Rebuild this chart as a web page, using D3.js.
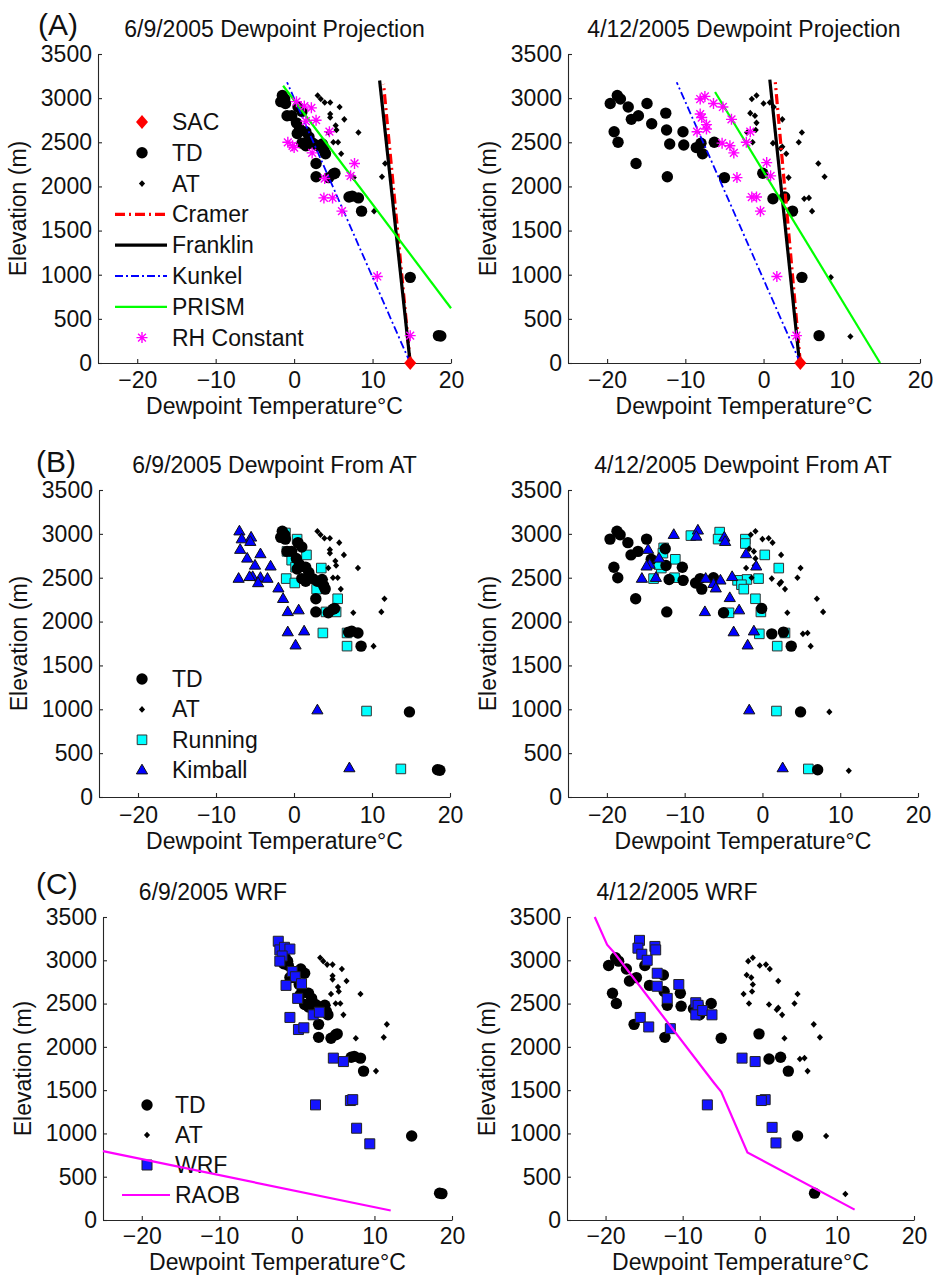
<!DOCTYPE html>
<html>
<head>
<meta charset="utf-8">
<script src="https://cdn.jsdelivr.net/npm/d3@7"></script>
<style>
  body { margin: 0; background: #fff; }
  svg text { font-family: "Liberation Sans", Arial, sans-serif; fill: #111; }
</style>
</head>
<body>
<svg id="fig" width="933" height="1279"></svg>
<script>
// ---- axis ticks ----
const xDomain = [-25, 20];
const yDomain = [0, 3500];
const xTicks = [-20, -10, 0, 10, 20];
const yTicks = [0, 500, 1000, 1500, 2000, 2500, 3000, 3500];

// ---- 6/9/2005 observations: [dewpoint °C, elevation m] ----
const td0609 = [[-1.5,3030],[-1.7,2960],[-1.2,2990],[-1.1,2940],[-0.9,2800],[0.5,2900],[1.0,2850],[-0.3,2800],
  [0.3,2720],[0.7,2650],[0.4,2600],[1.5,2620],[1.9,2560],[1.0,2490],[1.5,2460],[2.4,2490],[3.0,2460],[3.6,2480],
  [3.8,2410],[4.0,2370],[2.8,2260],[2.8,2110],[4.4,2100],[5.0,2140],[5.2,2150],[7.0,1880],[7.4,1890],[8.2,1870],
  [8.6,1720],[14.8,970],[18.4,310],[18.7,305]];
const at0609 = [[3.0,3030],[3.4,2990],[3.9,2950],[4.6,2950],[5.8,2900],[4.6,2820],[4.6,2780],[6.4,2760],[5.3,2690],
  [5.4,2640],[4.4,2610],[8.2,2610],[5.0,2500],[5.6,2500],[4.0,2480],[6.0,2370],[11.6,2260],[11.2,2110],[7.6,2100],[10.2,1720]];
const rh0609 = [[0.3,2960],[1.3,2910],[2.2,2890],[1.5,2740],[2.8,2750],[4.5,2620],[-0.8,2500],[-0.2,2460],[0.0,2440],
  [2.3,2380],[7.7,2260],[7.2,2120],[3.9,2090],[3.8,1870],[4.9,1870],[6.1,1720],[10.6,980],[14.8,310]];
const sac0609 = [[14.8, 0]];
const cramer0609 = [[14.8,0],[11.4,3160]];
const franklin0609 = [[14.8,0],[10.9,3200]];
const kunkel0609 = [[14.8,0],[-0.9,3180]];
const prism0609 = [[20,620],[-1.4,3140]];
const running0609 = [[-1.1,3010],[0.4,2940],[-0.9,2800],[1.6,2760],[-0.3,2700],[0.2,2620],[3.5,2610],[-1.0,2490],
  [0.1,2440],[2.9,2370],[5.6,2260],[5.4,2110],[4.1,2110],[3.7,1870],[6.8,1870],[6.8,1720],[9.3,980],[13.7,320]];
const kimball0609 = [[-7.0,3030],[-6.7,2940],[-5.5,2960],[-5.6,2910],[-6.9,2820],[-6.0,2720],[-4.3,2770],[-5.0,2640],
  [-3.0,2630],[-5.3,2510],[-4.3,2500],[-7.1,2490],[-5.7,2510],[-4.6,2440],[-3.4,2490],[-2.0,2380],[-1.4,2260],
  [-0.8,2110],[0.6,2130],[-0.8,1880],[1.3,1890],[0.2,1730],[3.0,990],[7.1,330]];
const wrf0609 = [[-2.4,3220],[-2.2,3120],[-1.6,3150],[-0.9,3130],[-1.9,3050],[-2.2,2990],[-0.6,2870],[-0.2,2810],
  [0.6,2730],[-1.4,2710],[0.1,2560],[-0.9,2340],[0.2,2200],[0.9,2220],[2.1,2370],[2.9,2400],[4.7,1870],[6.0,1830],
  [6.9,1380],[7.2,1390],[2.4,1330],[7.7,1060],[9.4,880]];
const raob0609 = [[12.1,110],[-25,795]];

// ---- 4/12/2005 observations ----
const td0412 = [[-19.6,2940],[-18.7,3030],[-18.3,2990],[-17.3,2900],[-16.9,2760],[-16.0,2800],[-14.9,2940],[-14.3,2710],
  [-12.5,2830],[-12.4,2640],[-10.3,2620],[-19.1,2620],[-18.6,2500],[-12.0,2480],[-10.2,2470],[-8.6,2440],[-8.0,2490],
  [-7.8,2370],[-6.3,2500],[-16.3,2260],[-12.3,2110],[-5.0,2100],[-0.1,2150],[1.2,1860],[2.7,1880],[3.7,1720],
  [4.9,970],[7.1,310]];
const at0412 = [[-1.5,2990],[-0.9,3030],[0.0,2940],[0.8,2950],[1.3,2900],[-1.7,2830],[-1.1,2800],[-0.9,2720],[-1.0,2640],
  [-2.1,2610],[2.4,2760],[4.9,2610],[-1.4,2500],[1.2,2490],[4.5,2500],[2.4,2450],[2.2,2430],[2.9,2370],[7.0,2260],
  [7.8,2110],[3.2,2100],[5.2,1860],[5.8,1870],[6.2,1720],[8.6,970],[11.1,300]];
const rh0412 = [[-8.1,2990],[-7.5,3020],[-6.4,2940],[-5.2,2900],[-8.1,2820],[-7.9,2780],[-7.3,2700],[-8.5,2620],
  [-7.3,2650],[-4.1,2760],[-1.7,2620],[-2.2,2500],[-5.3,2490],[-4.3,2460],[-3.8,2380],[0.4,2270],[0.9,2120],
  [-3.4,2100],[-1.5,1880],[-0.9,1880],[-0.4,1720],[1.7,980],[4.2,310]];
const sac0412 = [[4.7, 0]];
const cramer0412 = [[4.7,0],[1.5,3180]];
const franklin0412 = [[4.6,0],[0.8,3210]];
const kunkel0412 = [[4.7,0],[-11.1,3180]];
const prism0412 = [[14.9,0],[-6.2,3070]];
const running0412 = [[-9.2,2980],[-5.5,3020],[-5.7,2940],[-2.2,2940],[-2.2,2890],[0.3,2760],[2.1,2610],[-0.5,2490],
  [-2.0,2480],[-3.2,2470],[-2.7,2420],[-2.4,2370],[-0.9,2260],[-0.2,2110],[-0.4,1860],[2.9,1870],[1.9,1720],
  [1.8,980],[5.9,320],[-11.2,2710],[-12.7,2840],[-12.8,2780],[-13.0,2610],[-13.3,2650],[-14.0,2490],[-11.3,2500],[-4.3,2100]];
const kimball0412 = [[-11.4,2990],[-8.3,3040],[-8.5,2970],[-4.9,2960],[-4.8,2910],[-14.7,2820],[-14.5,2650],[-14.9,2630],
  [-13.3,2720],[-15.5,2490],[-13.7,2500],[-2.1,2770],[-0.8,2630],[-3.9,2510],[-5.4,2470],[-6.3,2430],[-6.0,2380],
  [-7.3,2490],[-4.2,2270],[-3.0,2130],[-7.4,2110],[-3.7,1880],[-1.1,1890],[-1.9,1730],[-1.7,990],[2.6,330]];
const wrf0412 = [[-15.6,3230],[-15.8,3140],[-15.3,3070],[-14.6,3000],[-13.6,3160],[-13.5,3120],[-13.3,2850],[-13.3,2700],
  [-10.5,2720],[-12.0,2560],[-15.5,2340],[-14.4,2230],[-11.6,2210],[-8.3,2510],[-8.0,2480],[-8.3,2370],[-7.4,2420],
  [-6.2,2370],[-2.3,1870],[-0.6,1830],[0.7,1390],[0.2,1380],[-6.8,1330],[1.6,1070],[2.1,890]];
const raob0412 = [[-21.4,3500],[-19.8,3180],[-18.9,3090],[-5.9,1580],[-5.0,1480],[-1.6,780],[12.3,120]];

// ---- drawing helpers ----
const svg = d3.select("#fig");
const FONT = 23;

const markerPath = {
  td:  () => d3.symbol(d3.symbolCircle, Math.PI * 5.7 * 5.7)(),
  at:  () => "M0,-3.3L3.1,0L0,3.3L-3.1,0Z",
  sac: () => "M0,-7L6,0L0,7L-6,0Z",
  rh:  () => "M-5.5,0H5.5M0,-5.5V5.5M-3.9,-3.9L3.9,3.9M-3.9,3.9L3.9,-3.9",
  run: () => "M-4.8,-4.8H4.8V4.8H-4.8Z",
  kim: () => "M0,-6L5.6,3.7L-5.6,3.7Z",
  wrf: () => "M-5,-5H5V5H-5Z"
};
const markerStyle = {
  td:  {fill: "#000", stroke: "none"},
  at:  {fill: "#000", stroke: "none"},
  sac: {fill: "#ff0000", stroke: "none"},
  rh:  {fill: "none", stroke: "#ff00ff", sw: 1.4},
  run: {fill: "#00ffff", stroke: "#333", sw: 1},
  kim: {fill: "#0000ff", stroke: "#111", sw: 1},
  wrf: {fill: "#1414ff", stroke: "#222", sw: 1}
};
const lineStyle = {
  cramer:   {stroke: "#ff0000", sw: 3.2, dash: "10,4,2,4"},
  franklin: {stroke: "#000000", sw: 3.2, dash: null},
  kunkel:   {stroke: "#0000ff", sw: 1.8, dash: "8,3,2,3"},
  prism:    {stroke: "#00ff00", sw: 2.2, dash: null},
  raob:     {stroke: "#ff00ff", sw: 2.2, dash: null}
};

function styleMarker(sel, type) {
  const s = markerStyle[type];
  sel.attr("d", markerPath[type]())
     .attr("fill", s.fill)
     .attr("stroke", s.stroke)
     .attr("stroke-width", s.sw || 0);
}
function styleLine(sel, type) {
  const s = lineStyle[type];
  sel.attr("fill", "none").attr("stroke", s.stroke).attr("stroke-width", s.sw);
  if (s.dash) sel.attr("stroke-dasharray", s.dash);
}

function makePanel(box, title, titleX, tickGap, labelGap) {
  const x = d3.scaleLinear().domain(xDomain).range([box.x0, box.x1]);
  const y = d3.scaleLinear().domain(yDomain).range([box.y1, box.y0]);
  const g = svg.append("g");

  const xa = g.append("g").attr("transform", `translate(0,${box.y1})`)
    .call(d3.axisBottom(x).tickValues(xTicks).tickFormat(d3.format("d"))
      .tickSizeInner(-4).tickSizeOuter(0).tickPadding(tickGap - 16));
  const ya = g.append("g").attr("transform", `translate(${box.x0},0)`)
    .call(d3.axisLeft(y).tickValues(yTicks).tickFormat(d3.format("d"))
      .tickSizeInner(-4).tickSizeOuter(0).tickPadding(6));
  [xa, ya].forEach(a => {
    a.attr("font-size", FONT).attr("font-family", null);
    a.selectAll("path, line").attr("stroke", "#262626").attr("stroke-width", 1.1);
    a.selectAll("text").attr("fill", "#111");
  });

  g.append("text").attr("x", titleX != null ? titleX : (box.x0 + box.x1) / 2)
    .attr("y", box.y0 - 17).attr("text-anchor", "middle").attr("font-size", FONT).text(title);
  g.append("text").attr("x", (box.x0 + box.x1) / 2).attr("y", box.y1 + labelGap)
    .attr("text-anchor", "middle").attr("font-size", FONT).text("Dewpoint Temperature°C");
  g.append("text").attr("transform", `translate(${box.x0 - 72},${(box.y0 + box.y1) / 2}) rotate(-90)`)
    .attr("text-anchor", "middle").attr("font-size", FONT).text("Elevation (m)");

  const layer = g.append("g");
  return {
    x, y, g: layer,
    points(data, type) {
      layer.append("g").selectAll("path").data(data).join("path")
        .attr("transform", d => `translate(${x(d[0])},${y(d[1])})`)
        .call(styleMarker, type);
    },
    line(data, type) {
      layer.append("path").datum(data)
        .attr("d", d3.line().x(d => x(d[0])).y(d => y(d[1])))
        .call(styleLine, type);
    }
  };
}

function legend(g, items, mx, tx, y0, step, lineX0, lineX1) {
  items.forEach((it, i) => {
    const cy = y0 + i * step;
    if (it.kind === "marker") {
      g.append("path").attr("transform", `translate(${mx},${cy})`).call(styleMarker, it.type);
    } else {
      g.append("path").attr("d", `M${lineX0},${cy}H${lineX1}`).call(styleLine, it.type);
    }
    g.append("text").attr("x", tx).attr("y", cy + 8).attr("font-size", FONT).text(it.label);
  });
}

function panelLabel(text, x, y) {
  svg.append("text").attr("x", x).attr("y", y)
    .attr("font-family", "'Open Sans', Lato, sans-serif").attr("font-size", 30).attr("fill", "#111").text(text);
}

// ---- row A: dewpoint projection ----
const boxAL = {x0: 98, x1: 451, y0: 54, y1: 363};
const boxAR = {x0: 568, x1: 920, y0: 54, y1: 363};
[[boxAL, "6/9/2005 Dewpoint Projection", td0609, at0609, rh0609, sac0609, cramer0609, franklin0609, kunkel0609, prism0609],
 [boxAR, "4/12/2005 Dewpoint Projection", td0412, at0412, rh0412, sac0412, cramer0412, franklin0412, kunkel0412, prism0412]]
.forEach(([box, title, td, at, rh, sac, cr, fr, ku, pr], i) => {
  const p = makePanel(box, title, null, 25, 51);
  p.points(td, "td");
  p.points(at, "at");
  p.line(cr, "cramer");
  p.line(fr, "franklin");
  p.line(ku, "kunkel");
  p.line(pr, "prism");
  p.points(rh, "rh");
  p.points(sac, "sac");
  if (i === 0) {
    legend(p.g, [
      {kind: "marker", type: "sac", label: "SAC"},
      {kind: "marker", type: "td", label: "TD"},
      {kind: "marker", type: "at", label: "AT"},
      {kind: "line", type: "cramer", label: "Cramer"},
      {kind: "line", type: "franklin", label: "Franklin"},
      {kind: "line", type: "kunkel", label: "Kunkel"},
      {kind: "line", type: "prism", label: "PRISM"},
      {kind: "marker", type: "rh", label: "RH Constant"}
    ], 142, 172, 122, 30.8, 115, 167);
  }
});

// ---- row B: dewpoint derived from air temperature ----
const boxBL = {x0: 99, x1: 450, y0: 490, y1: 797};
const boxBR = {x0: 568, x1: 918, y0: 490, y1: 797};
[[boxBL, "6/9/2005 Dewpoint From AT", td0609, at0609, running0609, kimball0609],
 [boxBR, "4/12/2005 Dewpoint From AT", td0412, at0412, running0412, kimball0412]]
.forEach(([box, title, td, at, run, kim], i) => {
  const p = makePanel(box, title, null, 26, 52);
  p.points(run, "run");
  p.points(td, "td");
  p.points(at, "at");
  p.points(kim, "kim");
  if (i === 0) {
    legend(p.g, [
      {kind: "marker", type: "td", label: "TD"},
      {kind: "marker", type: "at", label: "AT"},
      {kind: "marker", type: "run", label: "Running"},
      {kind: "marker", type: "kim", label: "Kimball"}
    ], 142, 172, 679, 30.4);
  }
});

// ---- row C: WRF model and radiosonde ----
const boxCL = {x0: 103, x1: 452, y0: 917, y1: 1220};
const boxCR = {x0: 567, x1: 914, y0: 917, y1: 1220};
[[boxCL, "6/9/2005 WRF", td0609, at0609, wrf0609, raob0609],
 [boxCR, "4/12/2005 WRF", td0412, at0412, wrf0412, raob0412]]
.forEach(([box, title, td, at, wrf, raob], i) => {
  const p = makePanel(box, title, box.x0 + 110, 24, 50);
  if (i === 0) {
    legend(p.g, [
      {kind: "marker", type: "td", label: "TD"},
      {kind: "marker", type: "at", label: "AT"},
      {kind: "marker", type: "wrf", label: "WRF"},
      {kind: "line", type: "raob", label: "RAOB"}
    ], 147, 175, 1105, 30, 122, 170);
  }
  p.points(td, "td");
  p.points(at, "at");
  p.points(wrf, "wrf");
  p.line(raob, "raob");
});

panelLabel("(A)", 38, 35);
panelLabel("(B)", 36, 472);
panelLabel("(C)", 36, 894);
</script>
</body>
</html>
